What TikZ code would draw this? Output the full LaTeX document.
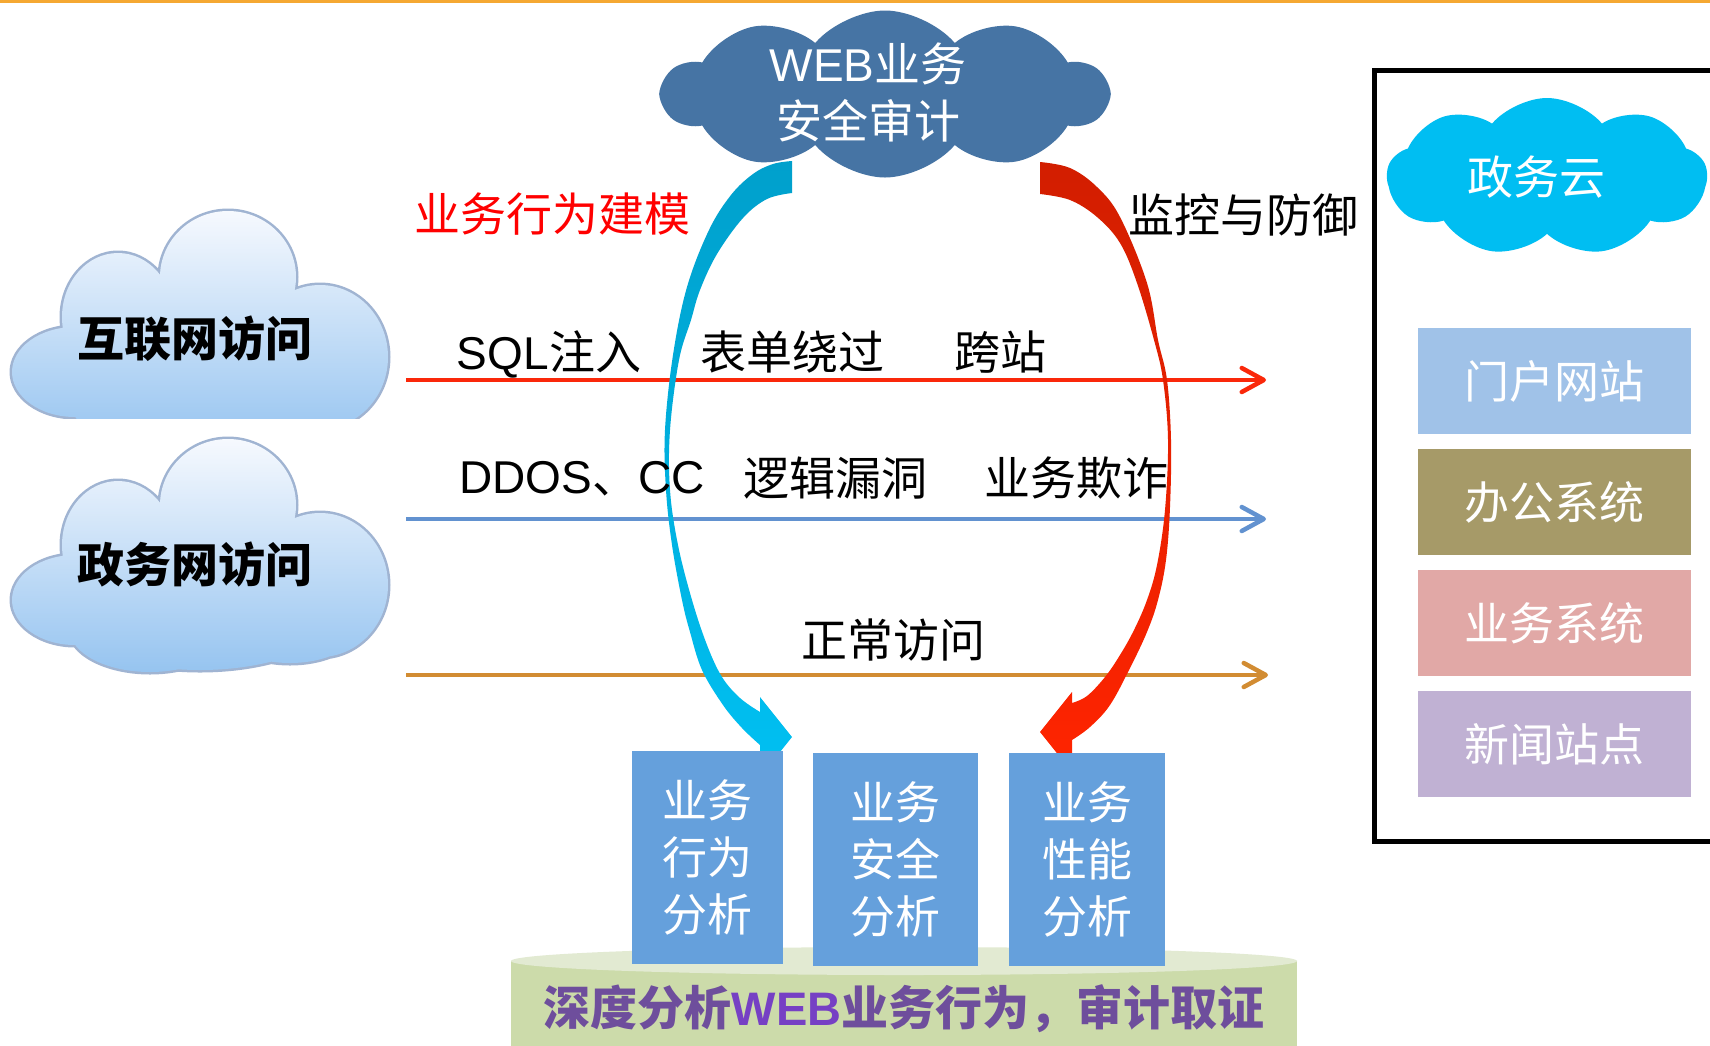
\documentclass[tikz,border=0pt]{standalone}
\usepackage{fontspec}
\setmainfont{Liberation Sans}
\newfontfamily\lat{Liberation Sans}
\newfontfamily\cjk{Noto Sans CJK SC}
\usetikzlibrary{shapes.symbols,arrows.meta}

\definecolor{webblue}{RGB}{70,116,164}
\definecolor{govcyan}{RGB}{0,190,242}
\definecolor{boxblue}{RGB}{101,160,220}
\definecolor{portal}{RGB}{160,194,232}
\definecolor{office}{RGB}{166,154,104}
\definecolor{bizsys}{RGB}{225,168,166}
\definecolor{news}{RGB}{192,177,211}
\definecolor{atkred}{RGB}{250,40,10}
\definecolor{atkblue}{RGB}{98,146,208}
\definecolor{normorange}{RGB}{210,140,50}
\definecolor{topline}{RGB}{245,168,50}
\definecolor{basegreen}{RGB}{204,219,170}
\definecolor{basetop}{RGB}{226,234,210}
\definecolor{purpletext}{RGB}{110,78,156}
\definecolor{webpurple}{RGB}{118,64,196}
\definecolor{cyanA}{RGB}{0,160,204}
\definecolor{cyanB}{RGB}{0,192,242}
\definecolor{redA}{RGB}{210,30,0}
\definecolor{redB}{RGB}{255,36,0}
\definecolor{cloudedge}{RGB}{160,180,210}
\definecolor{cloudtop}{RGB}{246,249,254}
\definecolor{cloudbot}{RGB}{150,196,240}

% glossy access cloud built from overlapping puffs (#1 = outward offset)
\newcommand\puffcloud[1]{%
  (228,505) ellipse [x radius=68+#1, y radius=66+#1]
  (118,545) ellipse [x radius=56+#1, y radius=64+#1]
  (75,600) ellipse [x radius=63+#1, y radius=45+#1]
  (320,585) ellipse [x radius=68+#1, y radius=72+#1]
  (200,600) ellipse [x radius=150+#1, y radius=70+#1]
  (150,630) ellipse [x radius=80+#1, y radius=42+#1]
  (290,625) ellipse [x radius=70+#1, y radius=38+#1]}

\tikzset{
  lbl/.style={inner sep=0pt, font=\cjk\fontsize{46}{55}\selectfont},
  cloudlabel/.style={inner sep=0pt, font=\cjk\bfseries\fontsize{47}{55}\selectfont},
  sysbox/.style={minimum width=273pt, minimum height=106pt, inner sep=0pt,
    text=white, font=\cjk\fontsize{45}{54}\selectfont},
  anabox/.style={minimum height=213pt, inner sep=0pt, fill=boxblue, text=white,
    align=center, font=\cjk\fontsize{45}{57}\selectfont},
  flow/.style={line width=3.2pt,
    -{Straight Barb[length=22pt,width=24pt,line width=4.5pt,round]}},
  flatcloud/.style={cloud, cloud puff arc=100, cloud ignores aspect,
    inner sep=0pt},
}

\begin{document}
\begin{tikzpicture}[x=1pt,y=-1pt]
\useasboundingbox (0,0) rectangle (1710,1045);
\fill[white] (0,0) rectangle (1710,1045);
\fill[topline] (0,0) rectangle (1710,2.5);

% access clouds
\begin{scope}
  \clip (0,190) rectangle (420,418);
  \begin{scope}[shift={(0,-228)}]
    \fill[cloudedge] \puffcloud{2.5};
    \shade[top color=cloudtop, bottom color=cloudbot] \puffcloud{0};
  \end{scope}
\end{scope}
\fill[cloudedge] \puffcloud{2.5};
\shade[top color=cloudtop, bottom color=cloudbot] \puffcloud{0};
\node[cloudlabel] (inet) at (195,339) {互联网访问};
\node[cloudlabel] (govnet) at (195,565) {政务网访问};

% traffic flows
\coordinate (r0) at (406,380);  \coordinate (r1) at (1266,380);
\coordinate (b0) at (406,519);  \coordinate (b1) at (1266,519);
\coordinate (o0) at (406,675);  \coordinate (o1) at (1268,675);
\draw[flow, atkred] (r0) -- (r1);
\draw[flow, atkblue] (b0) -- (b1);
\draw[flow, normorange] (o0) -- (o1);

% pedestal
\fill[basegreen] (511,961) rectangle (1297,1050);
\fill[basetop] (904,961) ellipse [x radius=393, y radius=14];

% modelling arrow (left) and monitoring arrow (right)
\shade[top color=cyanA, bottom color=cyanB]
  plot[smooth, tension=0.6] coordinates {(792,161) (773,164) (753,174) (731,195)
    (709,230) (687,287) (673,355) (665,430) (666,490) (672,545) (682,600)
    (690,632) (702,670) (723,705) (742,728) (760,745)}
  -- (760,777) -- (792,737) -- (760,697) -- (760,712)
  -- plot[smooth, tension=0.6] coordinates {(760,712) (740,698) (722,677) (707,645)
    (692,600) (678,545) (670,490) (670,430) (679,360) (691,320) (700,290)
    (717,254) (743,218) (767,199) (792,193)}
  -- cycle;
\shade[top color=redA, bottom color=redB]
  plot[smooth, tension=0.6] coordinates {(1040,162) (1070,168) (1097,187) (1120,217)
    (1147,283) (1158,340) (1167,380) (1171,440) (1170,507) (1166,560) (1158,600)
    (1147,632) (1130,668) (1110,705) (1090,727) (1072,740)}
  -- (1072,772) -- (1040,732) -- (1072,692) -- (1072,703)
  -- plot[smooth, tension=0.6] coordinates {(1072,703) (1087,696) (1105,677)
    (1120,655) (1134,630) (1147,600) (1157,565) (1165,510) (1168,440) (1163,380)
    (1154,340) (1137,283) (1120,243) (1097,217) (1070,200) (1040,194)}
  -- cycle;

% audit cloud
\node[flatcloud, cloud puffs=10, minimum width=445pt, minimum height=167pt,
  fill=webblue] (web) at (885,94) {};
\node[align=center, text=white, inner sep=0pt,
  font=\fontsize{46}{57}\selectfont] (webtxt) at (868,92)
  {WEB{\cjk 业务}\\{\cjk 安全审计}};

% labels
\node[lbl, text=red] (model) at (552,214) {业务行为建模};
\node[lbl] (monitor) at (1243,215) {监控与防御};
\node[lbl] (sql) at (549,354) {{\lat SQL}注入};
\node[lbl] (form) at (792,352) {表单绕过};
\node[lbl] (xss) at (1000,352) {跨站};
\node[lbl] (ddos) at (582,479) {{\lat DDOS}、{\lat CC}};
\node[lbl] (logic) at (835,478) {逻辑漏洞};
\node[lbl] (fraud) at (1076,478) {业务欺诈};
\node[lbl] (normal) at (893,640) {正常访问};

% analysis modules
\node[anabox, minimum width=151pt] (behav) at (707.5,857.5) {业务\\行为\\分析};
\node[anabox, minimum width=165pt] (secu) at (895.5,859.5) {业务\\安全\\分析};
\node[anabox, minimum width=156pt] (perf) at (1087,859.5) {业务\\性能\\分析};
\node[inner sep=0pt, text=purpletext, font=\cjk\bfseries\fontsize{47}{50}\selectfont]
  (forensic) at (904,1009) {深度分析{\lat\bfseries\color{webpurple}WEB}业务行为，审计取证};

% government cloud frame
\draw[line width=5pt] (1374,70) rectangle (1740,841);
\node[flatcloud, cloud puffs=9, minimum width=320pt, minimum height=158pt,
  fill=govcyan] (govcloud) at (1547,177) {};
\node[lbl, text=white] (govtxt) at (1536,177) {政务云};
\node[sysbox, fill=portal] (portal) at (1554.5,381) {门户网站};
\node[sysbox, fill=office] (office) at (1554.5,502) {办公系统};
\node[sysbox, fill=bizsys] (bizsys) at (1554.5,623) {业务系统};
\node[sysbox, fill=news] (news) at (1554.5,744) {新闻站点};
\end{tikzpicture}
\end{document}
